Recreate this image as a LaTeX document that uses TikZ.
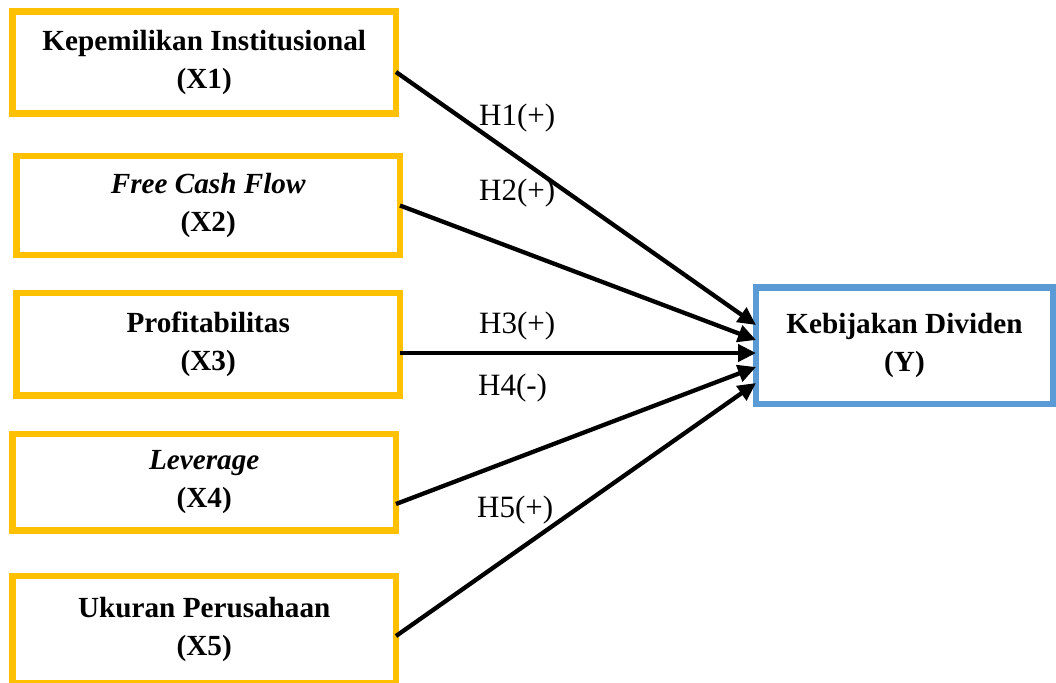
\documentclass[tikz,border=0pt]{standalone}
\usepackage{fontspec}
\setmainfont{Liberation Serif}
\usetikzlibrary{arrows.meta}

\definecolor{boxgold}{HTML}{FFC000}
\definecolor{boxblue}{HTML}{5B9BD5}
\newcommand{\boxlw}{6.5pt}
\newcommand{\varfont}{\fontsize{29.2}{38}\selectfont\bfseries}
\newcommand{\labfont}{\fontsize{31}{36}\selectfont}
\newcommand{\xn}{\node[draw=boxgold, line width=\boxlw, outer sep=0pt, inner sep=0pt, align=center, font=\varfont]}
\newcommand{\yn}{\node[draw=boxblue, line width=\boxlw, outer sep=0pt, inner sep=0pt, align=center, font=\varfont]}
\newcommand{\hn}{\node[anchor=base west, inner sep=0pt, font=\labfont]}

\begin{document}
\begin{tikzpicture}[x=1pt, y=-1pt]
            \useasboundingbox (0,0) rectangle (1056,682);

            \xn[minimum width=383.5pt, minimum height=102pt] (x1) at (204.25, 62.5) {Kepemilikan Institusional\\(X1)};
            \xn[minimum width=383.5pt, minimum height=99pt] (x2) at (208.25, 205.5) {\textit{Free Cash Flow}\\(X2)};
            \xn[minimum width=383.5pt, minimum height=102.5pt] (x3) at (208.25, 344.25) {Profitabilitas\\(X3)};
            \xn[minimum width=383.5pt, minimum height=96.5pt] (x4) at (204.25, 482.25) {\textit{Leverage}\\(X4)};
            \xn[minimum width=383.5pt, minimum height=107pt] (x5) at (204.25, 629.5) {Ukuran Perusahaan\\(X5)};

            \yn[minimum width=297pt, minimum height=116.5pt] (y) at (904.5, 345.75) {Kebijakan Dividen\\(Y)};

            \draw[-{Triangle[length=18pt, width=17pt]}, line width=4.3pt]
                ([yshift=-9.5pt]x1.east) -- ([yshift=20.75pt]y.west);
            \draw[-{Triangle[length=18pt, width=17pt]}, line width=4.3pt]
                (x2.east) -- ([yshift=5.75pt]y.west);
            \draw[-{Triangle[length=18pt, width=17pt]}, line width=4.3pt]
                ([yshift=-8.75pt]x3.east) -- ([yshift=-7.25pt]y.west);
            \draw[-{Triangle[length=18pt, width=17pt]}, line width=4.3pt]
                ([yshift=-21.75pt]x4.east) -- ([yshift=-21.25pt]y.west);
            \draw[-{Triangle[length=18pt, width=17pt]}, line width=4.3pt]
                ([yshift=-6.5pt]x5.east) -- ([yshift=-37.25pt]y.west);

            \hn (h1) at (479, 125) {H1(+)};
            \hn (h2) at (479, 200) {H2(+)};
            \hn (h3) at (479, 333) {H3(+)};
            \hn (h4) at (478, 395) {H4(-)};
            \hn (h5) at (477, 517) {H5(+)};

        \end{tikzpicture}
\end{document}
